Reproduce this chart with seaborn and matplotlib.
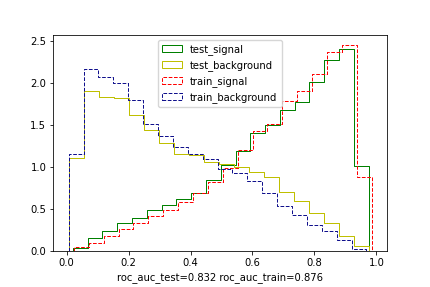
import numpy as np
import pandas as pd
import matplotlib
matplotlib.use("Agg")
import matplotlib.pyplot as plt
from matplotlib.patches import Patch
import seaborn as sns

# ---- data (density per bin, 20 bins per series) ----
series_names = ["test_signal", "test_background", "train_signal", "train_background"]
test_signal = [0.032, 0.151, 0.238, 0.329, 0.397, 0.488, 0.548, 0.62, 0.694, 0.845,
               1.024, 1.194, 1.401, 1.5, 1.679, 1.778, 2.016, 2.274, 2.405, 1.012]
test_background = [1.111, 1.913, 1.837, 1.83, 1.619, 1.44, 1.29, 1.155, 1.14, 1.063,
                   1.036, 1.004, 0.944, 0.877, 0.706, 0.599, 0.448, 0.329, 0.179, 0.06]
train_signal = [0.044, 0.099, 0.179, 0.258, 0.337, 0.417, 0.488, 0.58, 0.687, 0.825,
                0.984, 1.21, 1.429, 1.512, 1.789, 1.905, 2.107, 2.373, 2.452, 0.885]
train_background = [1.151, 2.167, 2.075, 2.008, 1.806, 1.52, 1.369, 1.242, 1.155, 1.091,
                    0.972, 0.925, 0.833, 0.687, 0.536, 0.429, 0.31, 0.242, 0.131, 0.024]
# score range (min, max) of each series
ranges = {
    "test_signal": (0.0203, 0.975),
    "test_background": (0.0065, 0.975),
    "train_signal": (0.0235, 0.985),
    "train_background": (0.0065, 0.968),
}
xlabel_text = "roc_auc_test=0.832 roc_auc_train=0.876"
x_ticks = [0.0, 0.2, 0.4, 0.6, 0.8, 1.0]
y_ticks = [0.0, 0.5, 1.0, 1.5, 2.0, 2.5]

values = {
    "test_signal": test_signal,
    "test_background": test_background,
    "train_signal": train_signal,
    "train_background": train_background,
}
colors = {
    "test_signal": "green",
    "test_background": "#bfbf00",
    "train_signal": "#ff0000",
    "train_background": "#10108c",
}
styles = {
    "test_signal": "-",
    "test_background": "-",
    "train_signal": "--",
    "train_background": "--",
}

s = 100 / 72  # reference drawn at 72 dpi
plt.rcParams.update({
    "font.family": ["DejaVu Sans"],
    "font.size": 10 / s,
    "axes.linewidth": 0.8 / s,
    "xtick.major.size": 3.5 / s,
    "ytick.major.size": 3.5 / s,
    "xtick.major.width": 0.8 / s,
    "ytick.major.width": 0.8 / s,
    "xtick.major.pad": 3.5 / s,
    "ytick.major.pad": 3.5 / s,
    "axes.labelpad": 4 / s,
})

fig, ax = plt.subplots(figsize=(4.3, 2.87), dpi=100)
fig.subplots_adjust(left=0.124, right=0.899, top=0.878, bottom=0.1254)

handles = []
for name in series_names:
    lo, hi = ranges[name]
    edges = np.linspace(lo, hi, len(values[name]) + 1)
    centers = (edges[:-1] + edges[1:]) / 2
    df = pd.DataFrame({"score": centers, "w": values[name]})
    # zero-width empty bins at both ends so the outline drops to the baseline
    all_edges = [lo] + edges.tolist() + [hi]
    sns.histplot(data=df, x="score", weights="w", bins=all_edges, element="step",
                 fill=False, color=colors[name], linestyle=styles[name],
                 linewidth=1.0 / s, ax=ax)
    handles.append(Patch(facecolor="none", edgecolor=colors[name],
                         linestyle=styles[name], linewidth=1.0 / s, label=name))

ax.set_xlim(-0.043, 1.033)
ax.set_ylim(0, 2.575)
ax.set_xticks(x_ticks)
ax.set_yticks(y_ticks)
ax.set_xlabel(xlabel_text)
ax.set_ylabel("")
ax.legend(handles=handles, loc="upper center", fontsize=10 / s)

fig.savefig("out.png", dpi=100)
